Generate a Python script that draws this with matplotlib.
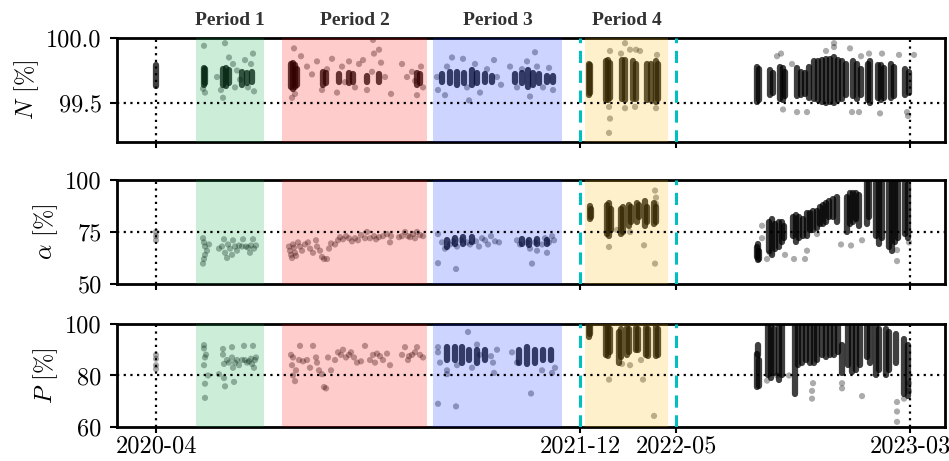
import matplotlib
matplotlib.use("Agg")
import matplotlib.pyplot as plt

plt.rcParams['font.family'] = 'serif'
plt.rcParams['font.serif'] = ['cmr10']
plt.rcParams['mathtext.fontset'] = 'cm'
plt.rcParams['axes.formatter.use_mathtext'] = True
plt.rcParams['axes.unicode_minus'] = False

# x is an observation index along the campaign
tick_pos = [39, 463, 559, 793]
tick_labels = ["2020-04", "2021-12", "2022-05", "2023-03"]
period_names = ["Period 1", "Period 2", "Period 3", "Period 4"]
period_start = [79, 165, 316, 468]
period_end = [147, 310, 445, 551]
period_colors = ["#00aa44", "#ff0000", "#0028ff", "#ffb400"]
switch_pos = [463, 559]
ref_pos = [39, 793]

# ---- N [%] ----
n_col_x = [39, 87, 88, 106, 109, 112, 125, 130, 135,
           174, 176, 178, 180, 206, 209, 222, 232, 236, 250, 262, 300, 303,
           325, 333, 340, 347, 355, 360, 368, 375, 398, 405, 411, 416, 422, 430, 436,
           472, 473, 489, 491, 493, 505, 508, 516, 519, 530, 534, 539, 541,
           640, 642, 653, 656, 663, 666, 668, 680, 684, 688, 692, 697, 701, 705, 709,
           713, 717, 721, 725, 729, 736, 740, 744, 751, 753, 761, 764, 767, 774, 777,
           788, 792]
n_col_lo = [99.63, 99.64, 99.65, 99.64, 99.63, 99.65, 99.64, 99.65, 99.66,
            99.62, 99.61, 99.62, 99.64, 99.64, 99.65, 99.66, 99.65, 99.66, 99.66, 99.66, 99.64, 99.65,
            99.66, 99.65, 99.64, 99.65, 99.64, 99.65, 99.66, 99.66, 99.66, 99.65, 99.62, 99.64, 99.65, 99.66, 99.66,
            99.56, 99.58, 99.52, 99.52, 99.54, 99.53, 99.52, 99.53, 99.53, 99.52, 99.52, 99.51, 99.53,
            99.51, 99.52, 99.56, 99.58, 99.53, 99.52, 99.55, 99.55, 99.56, 99.57, 99.54, 99.53, 99.52, 99.51, 99.50,
            99.51, 99.50, 99.52, 99.53, 99.56, 99.55, 99.53, 99.56, 99.52, 99.50, 99.54, 99.52, 99.54, 99.54, 99.55,
            99.56, 99.58]
n_col_hi = [99.79, 99.77, 99.76, 99.76, 99.77, 99.75, 99.74, 99.73, 99.74,
            99.80, 99.81, 99.79, 99.76, 99.74, 99.73, 99.72, 99.73, 99.72, 99.71, 99.72, 99.73, 99.72,
            99.72, 99.74, 99.74, 99.73, 99.75, 99.73, 99.72, 99.71, 99.72, 99.73, 99.75, 99.73, 99.72, 99.71, 99.71,
            99.80, 99.79, 99.82, 99.83, 99.81, 99.83, 99.83, 99.82, 99.80, 99.80, 99.80, 99.82, 99.80,
            99.78, 99.76, 99.75, 99.73, 99.78, 99.77, 99.74, 99.77, 99.74, 99.73, 99.78, 99.82, 99.82, 99.83, 99.84,
            99.84, 99.85, 99.83, 99.82, 99.80, 99.82, 99.80, 99.76, 99.80, 99.82, 99.79, 99.79, 99.77, 99.80, 99.78,
            99.76, 99.74]
n_pt_x = [87, 88, 86, 108, 106, 104, 100, 112, 116, 118, 120, 128, 134, 136, 137, 131, 123,
          177, 175, 178, 184, 190, 195, 200, 205, 210, 215, 220, 225, 228, 232, 238, 242, 246, 250,
          255, 257, 256, 262, 264, 268, 274, 285, 290, 295, 298, 300, 304, 306,
          320, 321, 328, 335, 330, 346, 350, 352, 358, 363, 370, 377, 380, 384, 393, 400, 405, 410,
          413, 418, 420, 426, 432, 436,
          493, 508, 504, 513, 519, 523, 540, 492, 493, 492, 508, 518, 539,
          664, 717, 717, 709, 733, 752, 765, 782, 797, 680, 690, 735, 742, 763, 790, 791, 660, 675,
          666, 744]
n_pt_y = [99.94, 99.58, 99.61, 99.96, 99.54, 99.60, 99.70, 99.85, 99.80, 99.62, 99.75, 99.83, 99.80,
          99.88, 99.59, 99.62, 99.68,
          99.92, 99.54, 99.57, 99.86, 99.78, 99.72, 99.82, 99.60, 99.76, 99.84, 99.58, 99.78, 99.66,
          99.82, 99.62, 99.80, 99.83, 99.60, 99.74, 99.88, 99.985, 99.91, 99.81, 99.70, 99.57, 99.80,
          99.70, 99.74, 99.67, 99.56, 99.78, 99.62,
          99.70, 99.60, 99.56, 99.85, 99.78, 99.84, 99.62, 99.52, 99.80, 99.58, 99.76, 99.83, 99.70,
          99.64, 99.78, 99.62, 99.76, 99.82, 99.55, 99.89, 99.78, 99.62, 99.77, 99.60,
          99.90, 99.96, 99.88, 99.91, 99.91, 99.90, 99.87, 99.47, 99.38, 99.27, 99.46, 99.47, 99.46,
          99.88, 99.96, 99.93, 99.90, 99.92, 99.88, 99.88, 99.87, 99.87, 99.43, 99.43, 99.43, 99.43,
          99.42, 99.43, 99.40, 99.86, 99.80, 99.45, 99.86]

# ---- alpha [%] ----
a_col_x = [330, 338, 346, 355, 405, 412, 420, 430,
           473, 474, 490, 492, 494, 504, 506, 512, 514, 520, 522, 528, 530, 537, 539,
           640, 641, 642, 652, 655, 658, 662, 665, 667, 676, 679, 682, 686, 690, 693, 696, 700,
           703, 706, 709, 712, 716, 720, 730, 733, 736, 739, 742, 750, 752, 759, 762, 765,
           772, 775, 778, 781, 788, 791]
a_col_lo = [68, 69, 69, 70, 69, 68.5, 69, 69,
            81, 82, 74, 73, 76, 74, 75, 78, 80, 80, 82, 78, 80, 79, 80,
            63, 61.5, 62, 66, 64, 67, 68, 70, 72, 73, 70, 72, 73, 73, 76, 76, 77,
            79, 79, 80, 82, 82, 80, 75, 79, 80, 81, 78, 79, 82, 73, 69, 72,
            68, 66, 70, 72, 74, 72]
a_col_hi = [71, 72, 72.5, 72.5, 71.5, 71, 71.5, 71,
            87.4, 86, 88, 89, 86, 86, 87, 88, 87, 89, 88, 90, 87, 89, 87,
            68, 69, 66, 80, 81, 79, 80, 80, 78, 82, 83, 82, 81, 84, 84, 85, 85,
            87, 88, 89, 90, 91, 92, 92, 93.5, 93.5, 93.5, 93, 99.5, 99.5, 99.8, 99.8, 99.5,
            99.8, 99.8, 99, 99.8, 99.5, 98]
a_pt_x = [39, 39, 39,
          86, 87, 88, 88, 87, 86, 90, 92, 102, 105, 107, 108, 110, 111, 113, 115, 116, 118, 120,
          122, 125, 126, 129, 131, 134, 136, 137, 139, 133,
          172, 173, 174, 175, 176, 177, 178, 179, 181, 183, 185, 188, 191, 193, 196, 199, 200,
          203, 205, 207, 210, 212, 214, 218, 221, 223, 226, 229, 232, 235, 238, 241, 244, 248,
          250, 253, 257, 259, 262, 266, 270, 273, 274, 285, 288, 291, 296, 300, 303, 306, 298,
          293, 282,
          321, 321, 325, 328, 333, 336, 339, 340, 344, 350, 353, 359, 362, 365, 368, 371, 374,
          378, 382, 400, 403, 410, 413, 415, 418, 425, 428, 432, 435, 437, 430, 420,
          492, 527, 538, 538, 539, 539, 513, 500,
          645, 650, 653, 668, 677, 690, 688, 700, 724, 734, 745, 780, 780, 792, 645]
a_pt_y = [75, 73, 71,
          72, 70, 68, 64, 62, 59.8, 66, 69, 67, 68, 71.5, 65, 62.5, 69, 67, 64, 71, 68, 66,
          68.5, 68, 71.5, 68, 67.5, 68.5, 71.5, 67, 68.5, 65,
          68, 66, 64, 62.5, 69, 67.5, 65, 63.5, 70, 68, 66, 69, 70, 67, 65, 71, 68,
          66, 63, 62, 62, 67, 69.5, 69, 71, 72.5, 71.5, 73, 72, 70.5, 72, 71, 73.5, 72,
          75, 72, 73, 71.5, 72.5, 73, 74, 70, 73, 73, 75, 73, 74, 75, 73.5, 73, 72,
          72.5, 72.5,
          74, 60, 70, 67, 69, 70.5, 57.2, 68, 71, 70, 69, 70.5, 68, 72, 71, 69, 73,
          70.5, 70, 71, 69, 70, 67, 59.8, 70, 69, 72, 70, 73, 71, 65, 66,
          67.8, 68.6, 59.8, 94.9, 91.5, 88.5, 75, 76,
          78, 62, 65, 64, 62, 66, 62, 74, 69, 68.5, 71, 66.3, 61, 70, 72]

# ---- P [%] ----
p_col_x = [330, 338, 345, 352, 360, 368, 402, 410, 418, 426, 434,
           472, 473, 489, 491, 493, 502, 504, 510, 512, 519, 521, 529, 531, 539, 541,
           640, 642, 641, 651, 654, 657, 662, 665, 678, 681, 685, 689, 693, 697, 700, 705,
           709, 713, 717, 721, 725, 731, 735, 739, 743, 750, 753, 759, 762, 769, 772, 779,
           787, 791]
p_col_lo = [86, 86, 85, 86, 85, 86, 85, 84.5, 85, 86, 86,
            95, 96, 88, 87.6, 89, 85, 87, 88, 89, 90, 90, 88, 87.6, 87.6, 88,
            75.5, 76, 88, 80, 79, 81, 78.3, 80, 73, 84, 85, 86, 85, 85, 86, 88,
            87, 88, 88, 89, 81, 84, 81.4, 82, 84, 87, 85, 80, 82, 80, 82, 85,
            73, 72]
p_col_hi = [91, 91, 91, 90, 90, 90, 90, 91, 90, 90, 90,
            99.6, 99.6, 99.6, 99.6, 98, 97, 98, 98.5, 98, 98.5, 98, 98.5, 98, 99, 98,
            88.5, 86, 92, 99.5, 99.6, 98, 99, 99.5, 99.6, 99.6, 99.6, 99.6, 99.6, 99.4, 99.6, 99.6,
            99.6, 99.6, 99.6, 99.6, 92, 99.6, 99.6, 99, 99, 99.5, 99.5, 99.5, 98, 98, 97, 96,
            94, 92]
p_pt_x = [39, 39, 39, 39,
          87, 87, 89, 88, 87, 91, 88, 88, 102, 106, 106, 107, 107, 108, 110, 112, 115, 115, 116,
          117, 118, 120, 122, 125, 127, 128, 130, 132, 136, 135, 137, 138, 139, 134,
          174, 176, 175, 176, 178, 179, 182, 183, 186, 190, 193, 196, 199, 200, 202, 205, 207,
          209, 211, 214, 218, 221, 224, 226, 229, 232, 234, 237, 240, 244, 248, 253, 256, 260,
          263, 266, 270, 273, 285, 288, 292, 295, 298, 300, 303, 306, 291, 258,
          321, 321, 323, 321, 339, 330, 351, 340, 355, 363, 376, 377, 380, 395, 400, 414, 425,
          435, 438, 330, 360, 374,
          492, 526, 537, 524, 505, 513,
          696, 695, 695, 650, 660, 672, 725, 725, 780, 780, 780, 787, 792, 792, 745]
p_pt_y = [88, 86.5, 84, 82.5,
          91.8, 90.5, 88.1, 87, 84, 80, 76.8, 71.3, 80.5, 90.3, 88.1, 84.5, 79, 75.8, 86, 85, 91,
          87, 83, 77.5, 85, 86, 84, 86, 91.5, 86, 85, 85.5, 91.5, 84.5, 83, 86, 87, 86.5,
          88, 87, 84, 80, 77.8, 82, 86, 91.5, 85.5, 86, 83, 91.5, 87, 85, 82, 80.5, 75.5,
          75, 87, 82, 86, 89, 88, 90, 87, 88, 89, 87, 85, 85.5, 91.5, 86, 88, 88.5,
          87.5, 86, 88.5, 84, 88, 91, 87.5, 88, 89, 91, 88, 87, 86, 85,
          91, 89, 85, 69, 68, 82, 96.9, 84, 83, 88, 85, 81, 90, 89, 85, 73, 82,
          81, 83, 80.5, 92, 87.5,
          78.4, 78.4, 64.3, 86, 84.5, 84,
          77, 71, 74, 78, 80, 80, 77, 75, 69.7, 66, 62, 71, 77, 74, 72]

panels = [
    (n_col_x, n_col_lo, n_col_hi, n_pt_x, n_pt_y, r"$N$ [%]", (99.2, 100.0), [99.5, 100.0], 99.5, "{:.1f}"),
    (a_col_x, a_col_lo, a_col_hi, a_pt_x, a_pt_y, r"$\alpha$ [%]", (50, 100), [50, 75, 100], 75, "{:.0f}"),
    (p_col_x, p_col_lo, p_col_hi, p_pt_x, p_pt_y, r"$P$ [%]", (60, 100), [60, 80, 100], 80, "{:.0f}"),
]

fig = plt.figure(figsize=(9.49, 4.61), dpi=100)
boxes = [(0.1233, 0.692, 0.8725, 0.2256),
         (0.1233, 0.384, 0.8725, 0.2256),
         (0.1233, 0.0738, 0.8725, 0.2234)]

axes = []
for box, (cx, clo, chi, px, py, ylab, ylim, yt, href, fmt) in zip(boxes, panels):
    ax = fig.add_axes(box)
    axes.append(ax)
    # dense clouds of measurements drawn as vertical smears
    lc = ax.vlines(cx, clo, chi, colors="k", linewidth=4.5, alpha=0.75, zorder=2)
    lc.set_capstyle("round")
    ax.scatter(px, py, s=20, c="k", alpha=0.33, edgecolors="none", zorder=2)
    for s, e, c in zip(period_start, period_end, period_colors):
        ax.axvspan(s, e, color=c, alpha=0.2, lw=0, zorder=3)
    ax.axhline(href, color="k", ls=(0, (1, 2)), lw=1.6, zorder=4)
    for xr in ref_pos:
        ax.axvline(xr, color="k", ls=(0, (1, 2)), lw=1.6, zorder=4)
    for xs in switch_pos:
        ax.axvline(xs, color="c", ls=(0, (4, 2.5)), lw=2.2, zorder=4)
    ax.set_xlim(0, 828)
    ax.set_ylim(*ylim)
    ax.set_yticks(yt)
    ax.set_yticklabels([fmt.format(v) for v in yt])
    ax.set_xticks(tick_pos)
    ax.set_ylabel(ylab, fontsize=17.5)
    ax.tick_params(axis="y", labelsize=17.5, width=1.5, length=5, direction="out", pad=6)
    ax.tick_params(axis="x", labelsize=17.5, width=1.5, length=4.5, direction="out", pad=1.5)
    for sp in ax.spines.values():
        sp.set_linewidth(2.0)

for ax in axes[:2]:
    ax.set_xticklabels([])
axes[2].set_xticklabels(tick_labels)

for name, s, e in zip(period_names, period_start, period_end):
    axes[0].text((s + e) / 2, 1.17, name, transform=axes[0].get_xaxis_transform(),
                 ha="center", va="center", fontsize=14, fontweight="bold",
                 family="Liberation Serif", color="#333333")

fig.savefig("out.png", dpi=100)
